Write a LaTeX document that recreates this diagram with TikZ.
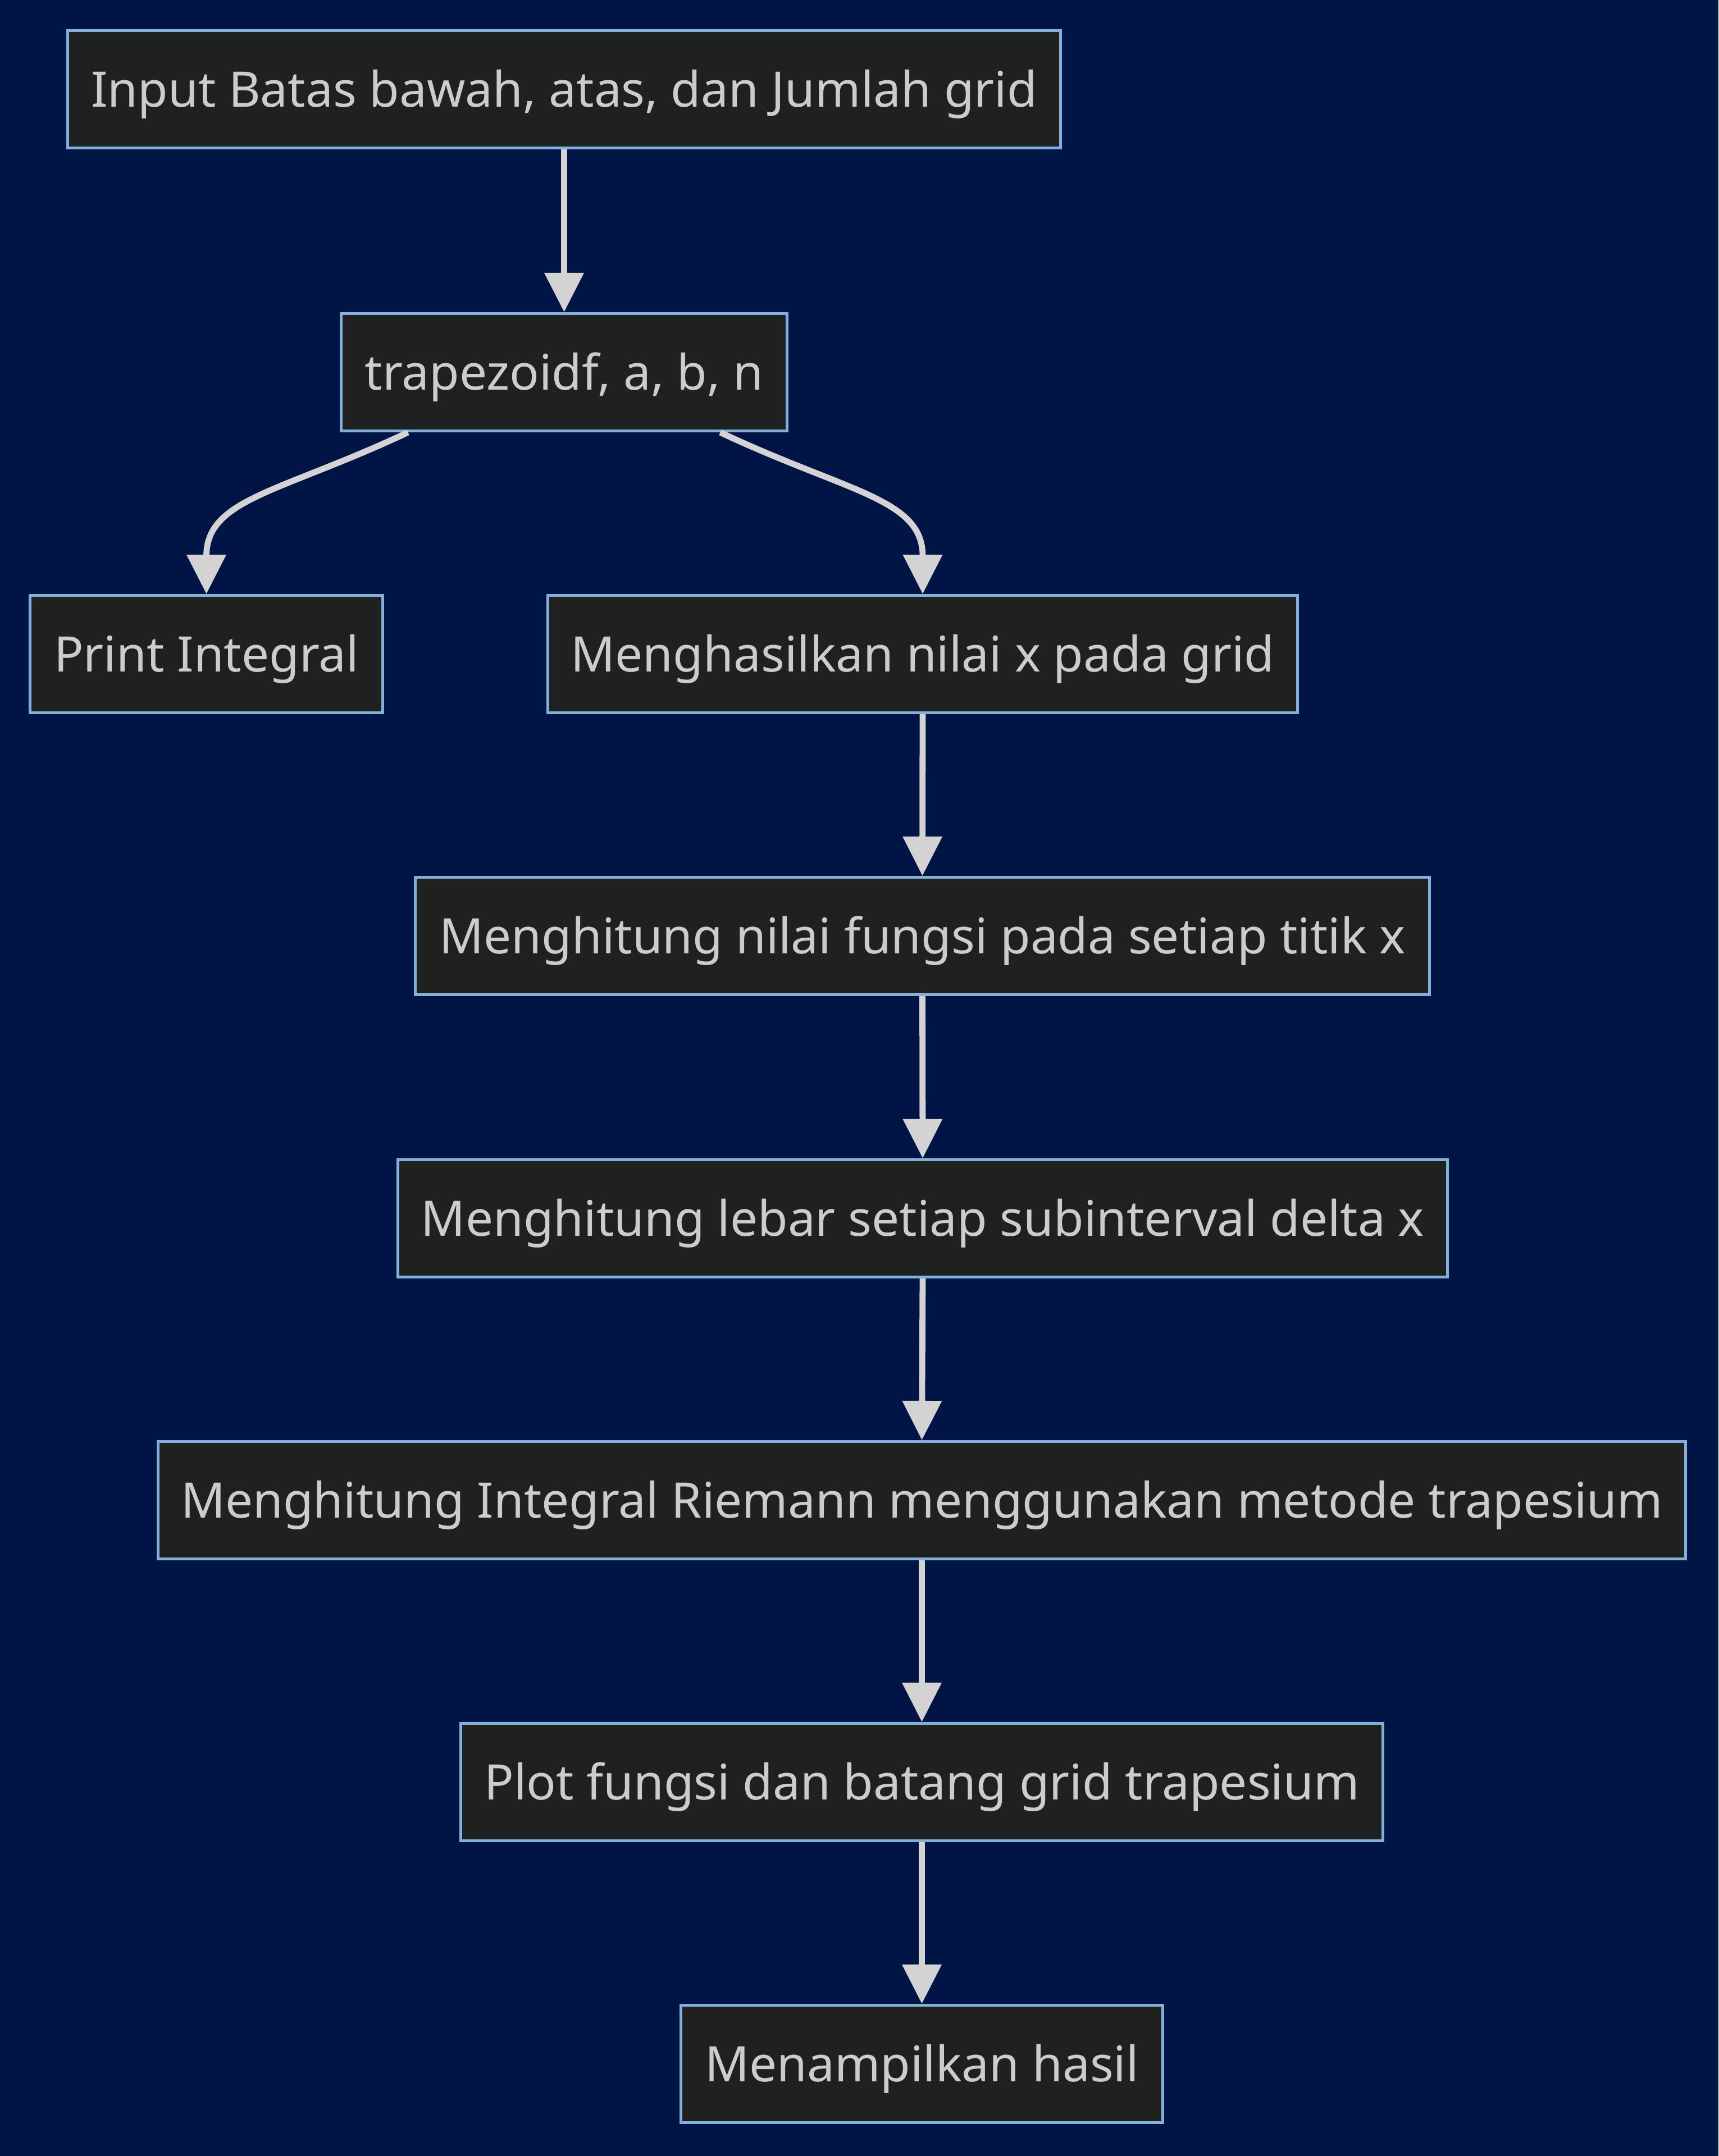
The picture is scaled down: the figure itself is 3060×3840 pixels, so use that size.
\documentclass[tikz,border=0pt]{standalone}
\usepackage{fontspec}
\setmainfont{Noto Sans}
\usetikzlibrary{arrows.meta}
\definecolor{bgc}{HTML}{001446}
\definecolor{nfill}{HTML}{1F2020}
\definecolor{nborder}{HTML}{81B1DB}
\definecolor{ncol}{HTML}{D3D3D3}
\definecolor{tcol}{HTML}{CCCCCC}
\begin{document}
\begin{tikzpicture}[x=0.25pt,y=-0.25pt,
  box/.style={draw=nborder, fill=nfill, line width=1.25pt, text=tcol,
    font=\fontsize{21.8}{26}\selectfont, inner sep=0pt, minimum height=52.3pt,
    text height=15.6pt, text depth=0pt},
  conn/.style={draw=ncol, line width=2.7pt, -{Triangle[length=17.5pt,width=17pt]}}]
\fill[bgc] (0,0) rectangle (3060,3840);
\useasboundingbox (0,0) rectangle (3060,3840);
\node[box, minimum width=442pt] (n1) at (1004.5,159) {Input Batas bawah, atas, dan Jumlah grid};
\node[box, minimum width=198.5pt] (n2) at (1004.5,663) {trapezoidf, a, b, n};
\node[box, minimum width=157pt] (n3) at (367.5,1165) {Print Integral};
\node[box, minimum width=333.75pt] (n4) at (1643,1165) {Menghasilkan nilai x pada grid};
\node[box, minimum width=451.5pt] (n5) at (1642.5,1667) {Menghitung nilai fungsi pada setiap titik x};
\node[box, minimum width=467.25pt] (n6) at (1643,2170) {Menghitung lebar setiap subinterval delta x};
\node[box, minimum width=680pt] (n7) at (1641.5,2672) {Menghitung Integral Riemann menggunakan metode trapesium};
\node[box, minimum width=410.5pt] (n8) at (1641.5,3174) {Plot fungsi dan batang grid trapesium};
\node[box, minimum width=214.5pt] (n9) at (1641.5,3676) {Menampilkan hasil};
\draw[conn] (n1.south) -- (n2.north);
\draw[conn] ([xshift=-69.5pt]n2.south) .. controls +(-227,107) and +(0,-170) .. (n3.north);
\draw[conn] ([xshift=69.5pt]n2.south) .. controls +(227,107) and +(0,-170) .. (n4.north);
\draw[conn] (n4.south) -- (n5.north);
\draw[conn] (n5.south) -- (n6.north);
\draw[conn] (n6.south) -- (n7.north);
\draw[conn] (n7.south) -- (n8.north);
\draw[conn] (n8.south) -- (n9.north);
\end{tikzpicture}
\end{document}
